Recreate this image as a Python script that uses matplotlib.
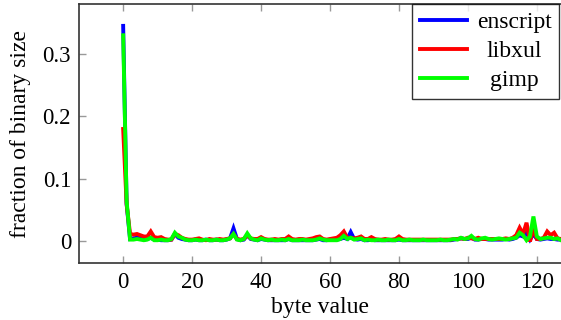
import numpy as np
import matplotlib
matplotlib.use('Agg')
import matplotlib.pyplot as plt

plt.rcParams['font.family'] = ['Liberation Serif', 'DejaVu Serif']

# byte values 0..127
byte_values = np.arange(128)

enscript = [
    0.345, 0.060, 0.004, 0.005, 0.006, 0.006, 0.003, 0.004, 0.006, 0.003,
    0.003, 0.002, 0.002, 0.002, 0.003, 0.012, 0.006, 0.004, 0.003, 0.002,
    0.002, 0.003, 0.002, 0.002, 0.003, 0.002, 0.002, 0.003, 0.002, 0.002,
    0.003, 0.005, 0.021, 0.004, 0.002, 0.003, 0.010, 0.004, 0.003, 0.002,
    0.004, 0.003, 0.002, 0.002, 0.002, 0.002, 0.002, 0.002, 0.004, 0.002,
    0.002, 0.002, 0.002, 0.002, 0.002, 0.002, 0.003, 0.004, 0.002, 0.002,
    0.003, 0.003, 0.003, 0.004, 0.006, 0.004, 0.015, 0.004, 0.003, 0.004,
    0.002, 0.002, 0.003, 0.002, 0.002, 0.002, 0.002, 0.002, 0.002, 0.002,
    0.003, 0.002, 0.002, 0.002, 0.002, 0.002, 0.002, 0.002, 0.002, 0.002,
    0.002, 0.002, 0.002, 0.002, 0.002, 0.002, 0.003, 0.004, 0.005, 0.004,
    0.004, 0.006, 0.003, 0.003, 0.004, 0.004, 0.003, 0.003, 0.003, 0.003,
    0.003, 0.004, 0.003, 0.004, 0.006, 0.010, 0.008, 0.014, 0.003, 0.012,
    0.004, 0.003, 0.004, 0.005, 0.004, 0.004, 0.003, 0.003,
]

libxul = [
    0.180, 0.060, 0.012, 0.011, 0.012, 0.010, 0.008, 0.008, 0.016, 0.007,
    0.006, 0.007, 0.004, 0.003, 0.003, 0.012, 0.010, 0.006, 0.004, 0.003,
    0.003, 0.004, 0.005, 0.003, 0.002, 0.004, 0.003, 0.003, 0.004, 0.003,
    0.004, 0.005, 0.012, 0.004, 0.003, 0.004, 0.010, 0.005, 0.004, 0.004,
    0.007, 0.004, 0.003, 0.003, 0.004, 0.003, 0.004, 0.004, 0.008, 0.004,
    0.003, 0.004, 0.004, 0.003, 0.004, 0.005, 0.007, 0.008, 0.004, 0.003,
    0.004, 0.005, 0.006, 0.010, 0.016, 0.006, 0.006, 0.005, 0.006, 0.008,
    0.004, 0.004, 0.007, 0.004, 0.003, 0.003, 0.004, 0.003, 0.003, 0.004,
    0.008, 0.004, 0.003, 0.003, 0.003, 0.003, 0.003, 0.003, 0.003, 0.003,
    0.003, 0.003, 0.003, 0.003, 0.003, 0.003, 0.004, 0.004, 0.005, 0.004,
    0.006, 0.005, 0.004, 0.006, 0.004, 0.004, 0.004, 0.004, 0.004, 0.004,
    0.004, 0.005, 0.004, 0.006, 0.010, 0.022, 0.012, 0.030, 0.000, 0.020,
    0.004, 0.004, 0.006, 0.016, 0.010, 0.014, 0.005, 0.004,
]

gimp = [
    0.330, 0.065, 0.003, 0.003, 0.004, 0.003, 0.002, 0.003, 0.006, 0.002,
    0.002, 0.003, 0.002, 0.002, 0.004, 0.014, 0.008, 0.006, 0.003, 0.002,
    0.002, 0.003, 0.002, 0.002, 0.003, 0.002, 0.002, 0.003, 0.002, 0.002,
    0.003, 0.005, 0.012, 0.003, 0.002, 0.004, 0.013, 0.005, 0.003, 0.002,
    0.005, 0.003, 0.002, 0.003, 0.002, 0.002, 0.003, 0.002, 0.004, 0.002,
    0.002, 0.002, 0.003, 0.002, 0.002, 0.002, 0.003, 0.005, 0.003, 0.002,
    0.002, 0.002, 0.002, 0.004, 0.009, 0.004, 0.006, 0.003, 0.004, 0.005,
    0.002, 0.003, 0.002, 0.002, 0.003, 0.002, 0.002, 0.003, 0.002, 0.002,
    0.004, 0.002, 0.002, 0.003, 0.002, 0.002, 0.002, 0.003, 0.002, 0.002,
    0.002, 0.002, 0.003, 0.002, 0.002, 0.003, 0.004, 0.003, 0.006, 0.004,
    0.005, 0.009, 0.004, 0.003, 0.005, 0.006, 0.004, 0.003, 0.004, 0.005,
    0.004, 0.003, 0.004, 0.005, 0.006, 0.014, 0.010, 0.002, 0.008, 0.040,
    0.008, 0.004, 0.005, 0.006, 0.006, 0.004, 0.005, 0.002,
]

series = [('enscript', enscript, '#0000ff'),
          ('libxul', libxul, '#ff0000'),
          ('gimp', gimp, '#00ff00')]

fig = plt.figure(figsize=(5.61, 3.2), dpi=100)
ax = fig.add_axes([0.1415, 0.177, 0.8585, 0.8105])

for name, vals, col in series:
    ax.plot(byte_values, vals, color=col, lw=2.8, label=name,
            solid_joinstyle='miter')

ax.set_xlim(-12.7, 127)
ax.set_ylim(-0.035, 0.38)
ax.set_xticks([0, 20, 40, 60, 80, 100, 120])
ax.set_yticks([0, 0.1, 0.2, 0.3])
ax.set_yticklabels(['0', '0.1', '0.2', '0.3'])
ax.tick_params(direction='in', length=5, width=1, color='#999999',
               labelsize=16.5, top=True, pad=6)
ax.spines['right'].set_visible(False)
for s in ('left', 'bottom', 'top'):
    ax.spines[s].set_color('#333333')
    ax.spines[s].set_linewidth(1.2)

ax.set_xlabel('byte value', fontsize=17, labelpad=3)
ax.set_ylabel('fraction of binary size', fontsize=17, labelpad=8)

leg = ax.legend(loc='upper right', bbox_to_anchor=(1 - 2 / 481.6, 1),
                fontsize=17, frameon=True, fancybox=False,
                handlelength=2.0, handletextpad=0.42, labelspacing=0.32,
                borderaxespad=0, borderpad=0.32)
leg.get_frame().set_edgecolor('black')
leg.get_frame().set_linewidth(1.0)
for line in leg.get_lines():
    line.set_linewidth(2.8)

# centre the legend labels within their column, as in the original
fig.canvas.draw()
renderer = fig.canvas.get_renderer()
texts = leg.get_texts()
widths = [t.get_window_extent(renderer).width for t in texts]
wmax = max(widths)
for t, w in zip(texts, widths):
    t.set_position(((wmax - w) / 2, 0))

plt.savefig('out.png', dpi=100)
